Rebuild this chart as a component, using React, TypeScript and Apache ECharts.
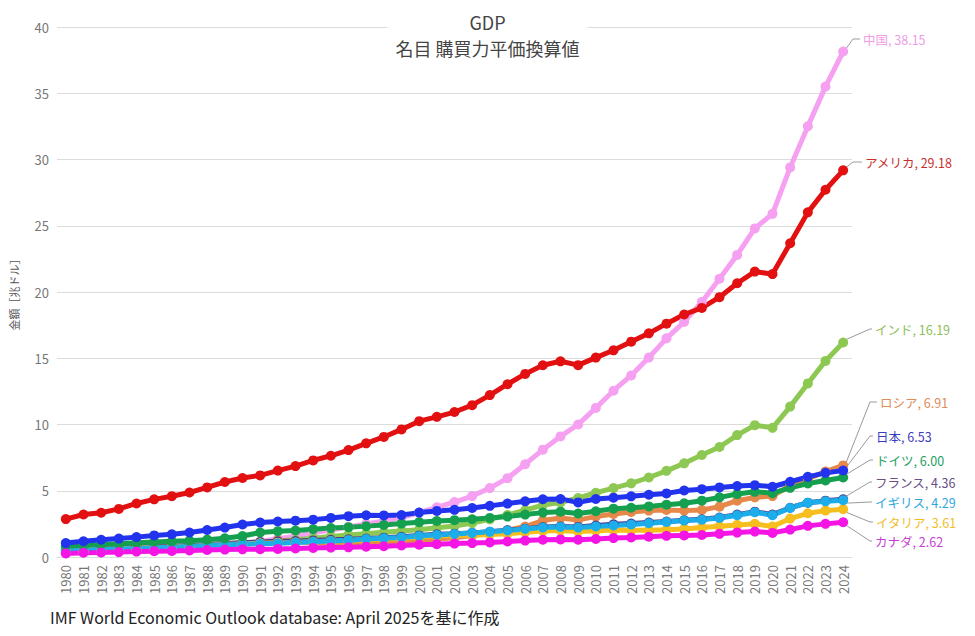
import React, { useEffect, useRef } from "react";
import * as echarts from "echarts";

const YEARS = [
  "1980", "1981", "1982", "1983", "1984", "1985", "1986", "1987", "1988", "1989",
  "1990", "1991", "1992", "1993", "1994", "1995", "1996", "1997", "1998", "1999",
  "2000", "2001", "2002", "2003", "2004", "2005", "2006", "2007", "2008", "2009",
  "2010", "2011", "2012", "2013", "2014", "2015", "2016", "2017", "2018", "2019",
  "2020", "2021", "2022", "2023", "2024",
];

const CHINA = [
  0.30, 0.34, 0.39, 0.45, 0.53, 0.61, 0.68, 0.78, 0.89, 0.96,
  1.04, 1.18, 1.37, 1.59, 1.82, 2.04, 2.27, 2.50, 2.71, 2.98,
  3.35, 3.75, 4.15, 4.60, 5.20, 5.95, 7.00, 8.10, 9.10, 10.00,
  11.25, 12.55, 13.70, 15.05, 16.50, 17.75, 19.25, 21.00, 22.80, 24.80,
  25.90, 29.40, 32.50, 35.50, 38.15,
];
const USA = [
  2.86, 3.21, 3.34, 3.63, 4.04, 4.35, 4.59, 4.87, 5.25, 5.66,
  5.96, 6.16, 6.52, 6.86, 7.29, 7.64, 8.07, 8.58, 9.06, 9.63,
  10.25, 10.58, 10.94, 11.46, 12.22, 13.04, 13.82, 14.47, 14.77, 14.48,
  15.05, 15.60, 16.25, 16.88, 17.61, 18.30, 18.80, 19.61, 20.66, 21.54,
  21.35, 23.68, 26.01, 27.72, 29.18,
];
const INDIA = [
  0.42, 0.48, 0.53, 0.59, 0.64, 0.70, 0.75, 0.81, 0.91, 0.99,
  1.08, 1.12, 1.21, 1.30, 1.41, 1.54, 1.67, 1.75, 1.86, 1.97,
  2.06, 2.20, 2.34, 2.56, 2.84, 3.17, 3.53, 3.92, 4.12, 4.45,
  4.85, 5.20, 5.56, 6.00, 6.50, 7.07, 7.70, 8.30, 9.20, 9.95,
  9.75, 11.35, 13.10, 14.80, 16.19,
];
const RUSSIA = [
  null, null, null, null, null, null, null, null, null, null,
  null, null, 1.25, 1.18, 1.05, 1.03, 1.02, 1.06, 1.01, 1.10,
  1.25, 1.36, 1.45, 1.62, 1.82, 2.03, 2.30, 2.75, 2.95, 2.80,
  3.05, 3.25, 3.40, 3.50, 3.55, 3.50, 3.55, 3.80, 4.25, 4.50,
  4.60, 5.40, 5.90, 6.45, 6.91,
];
const JAPAN = [
  1.05, 1.19, 1.30, 1.39, 1.50, 1.63, 1.72, 1.85, 2.04, 2.22,
  2.45, 2.60, 2.68, 2.74, 2.82, 2.95, 3.08, 3.15, 3.14, 3.17,
  3.35, 3.48, 3.56, 3.70, 3.86, 4.03, 4.20, 4.36, 4.38, 4.12,
  4.38, 4.48, 4.58, 4.70, 4.80, 5.02, 5.12, 5.25, 5.36, 5.42,
  5.30, 5.68, 6.05, 6.35, 6.53,
];
const GERMANY = [
  0.82, 0.90, 0.95, 1.00, 1.07, 1.13, 1.18, 1.23, 1.31, 1.41,
  1.58, 1.85, 1.95, 2.00, 2.10, 2.18, 2.25, 2.33, 2.42, 2.52,
  2.63, 2.72, 2.78, 2.85, 2.95, 3.05, 3.20, 3.35, 3.42, 3.28,
  3.45, 3.65, 3.72, 3.82, 3.95, 4.05, 4.25, 4.50, 4.75, 4.92,
  4.82, 5.22, 5.55, 5.78, 6.00,
];
const FRANCE = [
  0.55, 0.61, 0.67, 0.71, 0.75, 0.79, 0.82, 0.87, 0.94, 1.02,
  1.08, 1.13, 1.18, 1.20, 1.25, 1.30, 1.34, 1.39, 1.46, 1.53,
  1.63, 1.71, 1.76, 1.82, 1.90, 2.02, 2.14, 2.26, 2.31, 2.27,
  2.38, 2.47, 2.52, 2.60, 2.68, 2.78, 2.85, 2.98, 3.20, 3.42,
  3.20, 3.72, 4.10, 4.25, 4.36,
];
const UK = [
  0.48, 0.52, 0.56, 0.60, 0.65, 0.70, 0.73, 0.79, 0.86, 0.93,
  0.97, 1.00, 1.04, 1.09, 1.15, 1.21, 1.27, 1.35, 1.41, 1.48,
  1.58, 1.66, 1.73, 1.82, 1.90, 2.00, 2.12, 2.22, 2.27, 2.22,
  2.30, 2.38, 2.45, 2.55, 2.65, 2.75, 2.82, 2.95, 3.15, 3.38,
  3.15, 3.70, 4.10, 4.20, 4.29,
];
const ITALY = [
  0.50, 0.55, 0.59, 0.62, 0.67, 0.71, 0.75, 0.80, 0.87, 0.94,
  0.99, 1.04, 1.08, 1.10, 1.15, 1.21, 1.25, 1.30, 1.35, 1.40,
  1.50, 1.58, 1.62, 1.65, 1.70, 1.76, 1.87, 1.96, 2.00, 1.92,
  1.98, 2.04, 2.02, 2.02, 2.06, 2.12, 2.22, 2.32, 2.42, 2.50,
  2.30, 2.90, 3.30, 3.50, 3.61,
];
const CANADA = [
  0.27, 0.32, 0.34, 0.37, 0.41, 0.44, 0.46, 0.49, 0.53, 0.56,
  0.58, 0.59, 0.61, 0.64, 0.68, 0.71, 0.73, 0.78, 0.81, 0.87,
  0.93, 0.97, 1.01, 1.05, 1.10, 1.17, 1.24, 1.30, 1.33, 1.30,
  1.36, 1.43, 1.47, 1.53, 1.60, 1.63, 1.66, 1.75, 1.84, 1.92,
  1.82, 2.07, 2.35, 2.50, 2.62,
];

const Y_TICKS = { min: 0, max: 40, interval: 5 };

// drawing order: first = bottom
const SERIES = [
  { name: "中国", data: CHINA, color: "#F5A0F0", labelColor: "#EE9CE6", labelY: 39, labelX: 863, elbowX: 853 },
  { name: "インド", data: INDIA, color: "#8DC852", labelColor: "#8CC05A", labelY: 329, labelX: 875, elbowX: 870 },
  { name: "ロシア", data: RUSSIA, color: "#E5884A", labelColor: "#E08C58", labelY: 402, labelX: 880, elbowX: 870 },
  { name: "フランス", data: FRANCE, color: "#4A3C8C", labelColor: "#6A4E84", labelY: 482, labelX: 875, elbowX: 870 },
  { name: "イタリア", data: ITALY, color: "#F6BE1E", labelColor: "#F0BE2C", labelY: 522, labelX: 876, elbowX: 870 },
  { name: "イギリス", data: UK, color: "#1CAEEA", labelColor: "#2EA8DC", labelY: 502, labelX: 875, elbowX: 870 },
  { name: "ドイツ", data: GERMANY, color: "#14A04E", labelColor: "#1E9E5E", labelY: 460, labelX: 876, elbowX: 870 },
  { name: "日本", data: JAPAN, color: "#2233EE", labelColor: "#3A3CC0", labelY: 436, labelX: 876, elbowX: 870 },
  { name: "カナダ", data: CANADA, color: "#F414E4", labelColor: "#C640D4", labelY: 541, labelX: 875, elbowX: 870 },
  { name: "アメリカ", data: USA, color: "#E21010", labelColor: "#C83030", labelY: 162, labelX: 865, elbowX: 853 },
];

const FONT = "'Noto Sans CJK JP', 'Noto Sans', sans-serif";
const FOOTER = "IMF World Economic Outlook database: April 2025を基に作成";

export default function App() {
  const ref = useRef<HTMLDivElement>(null);

  useEffect(() => {
    if (!ref.current) return;
    const chart = echarts.init(ref.current, null, { renderer: "svg" });

    const footer = {
      type: "text",
      left: 50,
      top: 609,
      style: { text: FOOTER, fontSize: 16, fill: "#222", fontFamily: FONT },
    };

    chart.setOption({
      animation: false,
      textStyle: { fontFamily: FONT },
      title: {
        text: "GDP",
        subtext: "名目 購買力平価換算値",
        left: "center",
        top: 10,
        itemGap: 6,
        padding: [2, 8],
        backgroundColor: "#fff",
        textStyle: { fontSize: 18, fontWeight: "normal", color: "#444", fontFamily: FONT, lineHeight: 20 },
        subtextStyle: { fontSize: 18, color: "#444", fontFamily: FONT, lineHeight: 20 },
        z: 10,
      },
      grid: { left: 52, right: 123, top: 27, bottom: 79, containLabel: false },
      xAxis: {
        type: "category",
        data: YEARS,
        boundaryGap: true,
        axisLine: { show: true, lineStyle: { color: "#dcdcdc" } },
        axisTick: { show: false },
        axisLabel: { rotate: 90, interval: 0, fontSize: 13, color: "#777", margin: 8, fontFamily: FONT },
      },
      yAxis: {
        type: "value",
        min: Y_TICKS.min,
        max: Y_TICKS.max,
        interval: Y_TICKS.interval,
        name: "金額［兆ドル］",
        nameLocation: "middle",
        nameRotate: 90,
        nameGap: 38,
        nameTextStyle: { fontSize: 11, color: "#555", fontFamily: FONT },
        axisLine: { show: false },
        axisTick: { show: false },
        axisLabel: { fontSize: 13, color: "#777", margin: 8, fontFamily: FONT },
        splitLine: { lineStyle: { color: "#dcdcdc", width: 1 } },
      },
      series: SERIES.map((s) => ({
        name: s.name,
        type: "line",
        data: s.data,
        symbol: "circle",
        symbolSize: 10,
        showSymbol: true,
        connectNulls: false,
        lineStyle: { color: s.color, width: 5 },
        itemStyle: { color: s.color },
        emphasis: { disabled: true },
      })),
      graphic: [footer],
    });

    const last = YEARS.length - 1;
    const extra: any[] = [];
    SERIES.forEach((s) => {
      const v = s.data[last] as number;
      const p = chart.convertToPixel({ gridIndex: 0 }, [YEARS[last], v]) as number[];
      if (!p) return;
      const [px, py] = p;
      extra.push({
        type: "polyline",
        z: 1,
        shape: {
          points: [
            [px + 3, py + (s.labelY < py ? -3 : s.labelY > py ? 3 : 0)],
            [s.elbowX, s.labelY],
            [s.labelX - 3, s.labelY],
          ],
        },
        style: { stroke: "#9a9a9a", lineWidth: 1, fill: "none" },
      });
      extra.push({
        type: "text",
        x: s.labelX,
        y: s.labelY,
        style: {
          text: `${s.name}, ${v.toFixed(2)}`,
          fontSize: 12.5,
          lineHeight: 14,
          fill: s.labelColor,
          fontFamily: FONT,
          align: "left",
          verticalAlign: "middle",
        },
      });
    });
    chart.setOption({ graphic: [footer, ...extra] }, { replaceMerge: ["graphic"] });

    return () => chart.dispose();
  }, []);

  return (
    <div
      ref={ref}
      style={{ position: "fixed", left: 0, top: 0, width: 975, height: 636, background: "#fff" }}
    />
  );
}
